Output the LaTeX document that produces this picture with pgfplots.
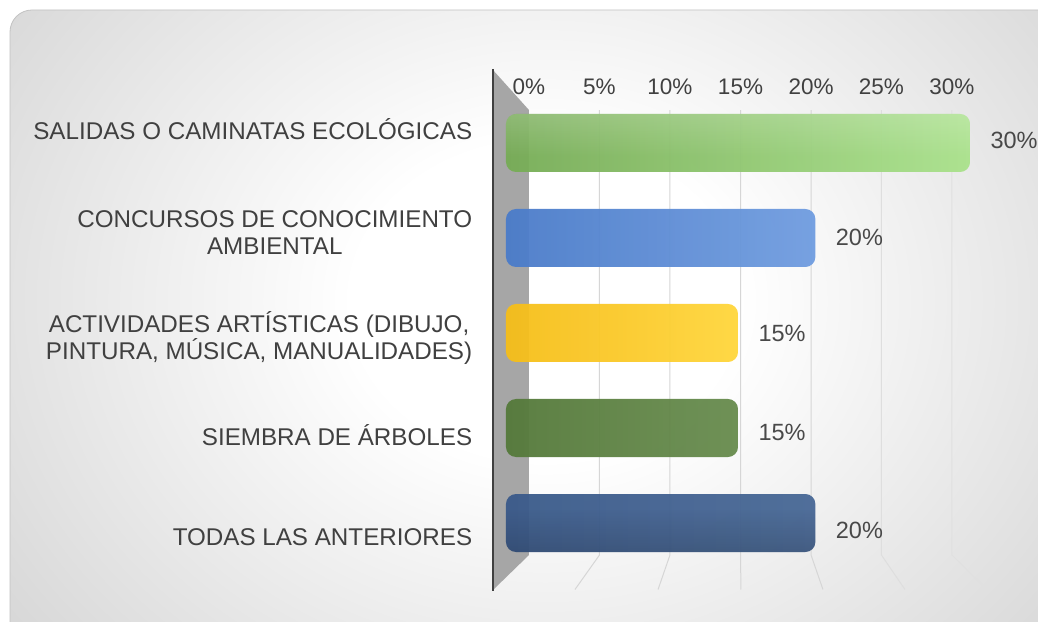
\documentclass[border=0pt]{standalone}
\usepackage{fontspec}
\setmainfont{Liberation Sans}
\usepackage{pgfplots}
\pgfplotsset{compat=1.18}
\usetikzlibrary{fadings}
\definecolor{txt}{HTML}{404040}
\definecolor{gridc}{HTML}{D6D6D6}
\definecolor{wallc}{HTML}{A6A6A6}
\pgfdeclareradialshading{bgshade}{\pgfpoint{0bp}{0bp}}{color(0bp)=(white); color(9bp)=(white); color(36bp)=(black!19); color(50bp)=(black!22)}
\pgfdeclareverticalshading{barshade}{100bp}{color(0bp)=(pgftransparent!35); color(12bp)=(pgftransparent!45); color(30bp)=(pgftransparent!100); color(100bp)=(pgftransparent!100)}
\pgfdeclarefading{barfade}{\pgfuseshading{barshade}}
\pgfdeclareverticalshading{hishade}{100bp}{color(0bp)=(pgftransparent!100); color(70bp)=(pgftransparent!100); color(80bp)=(pgftransparent!65); color(88bp)=(pgftransparent!100); color(100bp)=(pgftransparent!100)}
\pgfdeclarefading{hifade}{\pgfuseshading{hishade}}
\pgfplotsset{lab/.style={nodes near coords={\pgfmathprintnumber[assume math mode=true]{\pgfplotspointmeta}\%},
  point meta=x,
  nodes near coords style={anchor=west, xshift=17pt, yshift=#1, font=\fontsize{23.5}{27}\selectfont, text=txt}}}
\begin{document}
\begin{tikzpicture}
\begin{scope}
\clip (0,0) rectangle (1038pt,621pt);
\fill[white] (0,0) rectangle (1038pt,621pt);
\begin{scope}
\clip[rounded corners=22pt] (10pt,-40pt) rectangle (1080pt,611pt);
\shade[shading=bgshade] (10pt,-120pt) rectangle (1080pt,760pt);
\end{scope}
\draw[black!24, line width=0.8pt, rounded corners=22pt] (10pt,-40pt) rectangle (1080pt,611pt);
\end{scope}
\begin{axis}[
  anchor=south west, at={(493pt,29.6pt)},
  scale only axis, width=508pt, height=524.4pt,
  xmin=-0.84, xmax=32, ymin=-0.72, ymax=4.8,
  xbar, bar width=58pt,
  axis line style={draw=none}, tick style={draw=none},
  xtick={1.487,6.043,10.60,15.16,19.72,24.27,28.83},
  xticklabels={0\%,5\%,10\%,15\%,20\%,25\%,30\%},
  xticklabel pos=right,
  xticklabel style={anchor=center, yshift=-20pt, font=\fontsize{22.5}{26}\selectfont, text=txt},
  ytick={-0.147,0.926,1.952,3.057,4.147},
  yticklabels={{TODAS LAS ANTERIORES},{SIEMBRA DE ÁRBOLES},{ACTIVIDADES ARTÍSTICAS (DIBUJO,\\PINTURA, MÚSICA, MANUALIDADES)},{CONCURSOS DE CONOCIMIENTO\\AMBIENTAL},{SALIDAS O CAMINATAS ECOLÓGICAS}},
  yticklabel style={align=center, anchor=east, xshift=-13pt, font=\fontsize{24.2}{27}\selectfont, text=txt},
  clip=false,
]
\fill[wallc] (axis cs:-0.84,4.768) -- (axis cs:1.487,4.347) -- (axis cs:1.487,-0.337) -- (axis cs:-0.84,-0.705) -- cycle;
\draw[gridc, line width=1pt] (axis cs:6.043,4.347) -- (axis cs:6.043,-0.337) -- (axis cs:4.46,-0.70);
\draw[gridc, line width=1pt] (axis cs:10.60,4.347) -- (axis cs:10.60,-0.337) -- (axis cs:9.83,-0.70);
\draw[gridc, line width=1pt] (axis cs:15.16,4.347) -- (axis cs:15.16,-0.337) -- (axis cs:15.19,-0.70);
\draw[gridc, line width=1pt] (axis cs:19.72,4.347) -- (axis cs:19.72,-0.337) -- (axis cs:20.49,-0.70);
\draw[black!13, line width=1pt] (axis cs:24.27,4.347) -- (axis cs:24.27,-0.337) -- (axis cs:25.79,-0.70);
\draw[black!12, line width=1pt] (axis cs:28.83,4.347) -- (axis cs:28.83,-0.337) -- (axis cs:31.09,-0.70);
\draw[black!75, line width=2.5pt] (axis cs:-0.84,4.78) -- (axis cs:-0.84,-0.72);
\addplot[draw=none, rounded corners=10pt, bar shift=0pt, left color={rgb,255:red,118;green,172;blue,85}, right color={rgb,255:red,170;green,226;blue,140}, fill opacity=0.95, lab=3pt] coordinates {(30,4)};
\addplot[draw=none, rounded corners=10pt, bar shift=0pt, left color={rgb,255:red,74;green,123;blue,201}, right color={rgb,255:red,112;green,157;blue,224}, fill opacity=0.95, lab=1pt] coordinates {(20,3)};
\addplot[draw=none, rounded corners=10pt, bar shift=0pt, left color={rgb,255:red,246;green,190;blue,24}, right color={rgb,255:red,255;green,214;blue,60}, fill opacity=0.95, lab=0pt] coordinates {(15,2)};
\addplot[draw=none, rounded corners=10pt, bar shift=0pt, left color={rgb,255:red,84;green,121;blue,58}, right color={rgb,255:red,104;green,140;blue,78}, fill opacity=0.95, lab=-4pt] coordinates {(15,1)};
\addplot[draw=none, rounded corners=10pt, bar shift=0pt, left color={rgb,255:red,58;green,90;blue,138}, right color={rgb,255:red,72;green,104;blue,150}, fill opacity=0.95, lab=-7pt] coordinates {(20,0)};
\addplot[draw=none, fill=black, rounded corners=10pt, bar shift=0pt, path fading=barfade, fit fading=true] coordinates {(30,4) (20,3) (15,2) (15,1) (20,0)};
\addplot[draw=none, fill=white, rounded corners=10pt, bar shift=0pt, path fading=hifade, fit fading=true] coordinates {(30,4) (20,3) (15,2) (15,1) (20,0)};
\end{axis}
\pgfresetboundingbox
\path[use as bounding box] (0,0) rectangle (1038pt,621pt);
\end{tikzpicture}
\end{document}
